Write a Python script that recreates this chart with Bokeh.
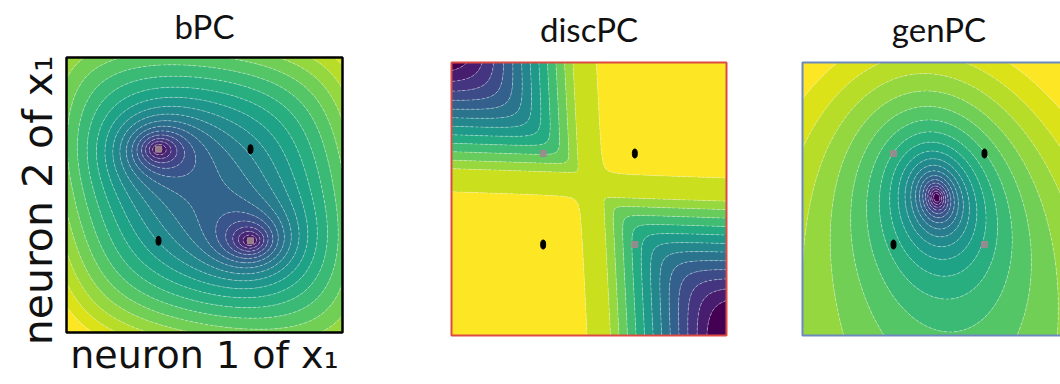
import numpy as np
from bokeh.plotting import figure
from bokeh.layouts import row
from bokeh.models import Range1d
from bokeh.core.properties import value
from bokeh.palettes import Viridis256
from bokeh.embed import file_html
from bokeh.resources import INLINE

# ---- data -------------------------------------------------------------
titles = ["bPC", "discPC", "genPC"]
x_label = "neuron 1 of x\u2081"
y_label = "neuron 2 of x\u2081"

# the four inputs: black = one class, grey = the other
black_x = [1.0, -1.0]
black_y = [1.0, -1.0]
gray_x = [-1.0, 1.0]
gray_y = [1.0, -1.0]

# bPC energy: broad valley along the anti-diagonal plus a well at each grey input
bpc_floor = [0.40]
bpc_slope_u = [0.285]          # growth along x+y
bpc_slope_v = [0.22]           # growth along x-y
bpc_tilt = [0.05]
bpc_well_depth = [0.48, 0.48]
bpc_well_sx = [0.62, 0.62]
bpc_well_sy = [0.48, 0.48]

# discPC: cross-shaped ridge, flat high plateau where the black inputs sit
disc_cross_x = [0.06, -0.05]   # vertical ridge: x = a + b*y
disc_cross_y = [0.31, -0.033]  # horizontal ridge: y = a + b*x
disc_ridge = [0.88]
disc_halfwidth = [0.2]
disc_drop = [0.384]

# genPC: one elongated well in the middle
gen_center = [-0.05, 0.03]
gen_scale = [1.0, 1.35]
gen_cross = [0.2]
gen_gain = [0.128]
gen_sharp = [100.0]
gen_tilt = [0.03]

# ---- fields on a grid --------------------------------------------------
LO, HI = -3.0, 3.0
grid = np.linspace(LO, HI, 241)
X, Y = np.meshgrid(grid, grid)


def hyp(t, s=1.5):
    return np.sqrt(1 + (t / s) ** 2) - 1


U = (X + Y) / np.sqrt(2)
V = (X - Y) / np.sqrt(2)
z_bpc = (bpc_floor[0] + bpc_slope_u[0] * hyp(U) + bpc_slope_v[0] * hyp(V)
         - bpc_tilt[0] * (X + Y) / 6)
for wx, wy, d, sx, sy in zip(gray_x, gray_y, bpc_well_depth, bpc_well_sx, bpc_well_sy):
    r = np.sqrt(((X - wx) / sx) ** 2 + ((Y - wy) / sy) ** 2)
    z_bpc = z_bpc - d * np.exp(-r)

sa = X - (disc_cross_x[0] + disc_cross_x[1] * Y)
sb = Y - (disc_cross_y[0] + disc_cross_y[1] * X)
a = np.abs(sa) + 1e-9
b = np.abs(sb) + 1e-9
same = (sa * sb) > 0
t_sharp = (a ** -6 + b ** -6) ** (-1 / 6)
t_round = (a ** -2 + b ** -2) ** (-1 / 2)
z_disc = np.where(
    same,
    disc_ridge[0] + (1 - disc_ridge[0]) * np.clip((t_round - disc_halfwidth[0]) / 0.12, 0, 1),
    disc_ridge[0] - disc_drop[0] * np.clip(t_sharp - disc_halfwidth[0], 0, None),
)

dx = X - gen_center[0]
dy = Y - gen_center[1]
q = (dx / gen_scale[0]) ** 2 + (dy / gen_scale[1]) ** 2 + gen_cross[0] * dx * dy
z_gen = gen_gain[0] * np.log(1 + gen_sharp[0] * q) + gen_tilt[0] * Y

TITLE_FONT = value("Lato")
LABEL_FONT = value("DejaVu Sans")
INK = "#111111"


def band_colors(n):
    return [Viridis256[int(round(i / (n - 1) * 255))] for i in range(n)]


def make_panel(title, z, nlev, width, left, box_w, top, box_h, border, lift):
    """Each canvas is one frame; the square box [-3, 3]^2 sits at the given
    pixel margins and the heading is centred `lift` px above it."""
    height = 384
    kx = box_w / (HI - LO)
    ky = box_h / (HI - LO)
    xr = Range1d(LO - left / kx, LO + (width - left) / kx)
    yr = Range1d(HI - (height - top) / ky, HI + top / ky)
    p = figure(width=width, height=height, x_range=xr, y_range=yr,
               x_axis_type=None, y_axis_type=None, output_backend="svg",
               toolbar_location=None, min_border=0, outline_line_color=None,
               background_fill_color="white", border_fill_color="white")
    p.grid.visible = False
    levels = np.linspace(0.0, 1.0, nlev + 1)
    zc = np.clip(z, 1e-6, 1 - 1e-6)
    p.contour(x=grid, y=grid, z=zc, levels=levels, fill_color=band_colors(nlev),
              line_color="#eef4f4", line_alpha=0.55, line_width=0.8, line_dash="3 2")
    p.ellipse(x=black_x, y=black_y, width=5, height=9, width_units="screen",
              height_units="screen", color="black")
    p.scatter(x=gray_x, y=gray_y, size=6, marker="square", color="#9c8a8e", alpha=0.9)
    p.quad(left=[LO], right=[HI], bottom=[LO], top=[HI], fill_color=None,
           line_color=border[0], line_width=border[1])
    p.text(x=[0.0], y=[HI + lift / ky], text=[title], text_align="center",
           text_baseline="middle", text_font=TITLE_FONT, text_font_size="33px",
           text_color=INK)
    return p, kx, ky


p1, kx1, ky1 = make_panel(titles[0], z_bpc, 20, 400, 66, 276, 57, 275, ("black", 2.5), 32)
p2, _, _ = make_panel(titles[1], z_disc, 14, 360, 51, 275, 62, 273, ("#dc4a42", 2), 34)
p3, _, _ = make_panel(titles[2], z_gen, 20, 300, 42, 273, 62, 273, ("#6d87bf", 2), 34)

# axis captions of the first panel
p1.text(x=[0.0], y=[LO - 22 / ky1], text=[x_label], text_align="center",
        text_baseline="middle", text_font=LABEL_FONT, text_font_size="38px",
        text_color=INK)
p1.text(x=[LO - 29 / kx1], y=[-0.12], text=[y_label], angle=np.pi / 2,
        text_align="center", text_baseline="middle", text_font=LABEL_FONT,
        text_font_size="41px", text_color=INK)

layout = row(p1, p2, p3, spacing=0)
open("out.html", "w").write(file_html(layout, INLINE))
